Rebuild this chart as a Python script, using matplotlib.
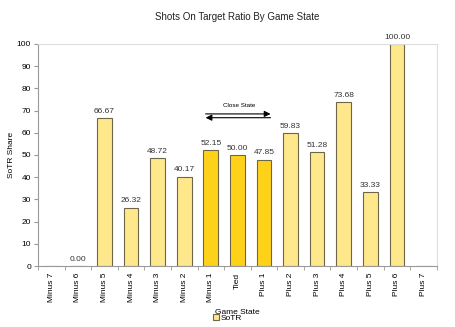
import numpy as np
import matplotlib
matplotlib.use('Agg')
import matplotlib.pyplot as plt

states = ['Minus 7', 'Minus 6', 'Minus 5', 'Minus 4', 'Minus 3', 'Minus 2', 'Minus 1',
          'Tied', 'Plus 1', 'Plus 2', 'Plus 3', 'Plus 4', 'Plus 5', 'Plus 6', 'Plus 7']
sotr = [np.nan, 0.00, 66.67, 26.32, 48.72, 40.17, 52.15,
        50.00, 47.85, 59.83, 51.28, 73.68, 33.33, 100.00, np.nan]
close_states = ['Minus 1', 'Tied', 'Plus 1']

light = '#FFE88C'
gold = '#FFD21A'

plt.rcParams['font.family'] = ['Liberation Sans', 'DejaVu Sans']

fig = plt.figure(figsize=(4.55, 3.27), dpi=100)
ax = fig.add_axes([0.0835, 0.1865, 0.8765, 0.679])

x = np.arange(len(states))
colors = [gold if s in close_states else light for s in states]
vals = np.nan_to_num(sotr)
bars = ax.bar(x, vals, width=0.55, color=colors, edgecolor='#6E6648', linewidth=0.8)
for xi, v in zip(x, sotr):
    if not np.isnan(v):
        ax.text(xi, v + 1.5, '%.2f' % v, ha='center', va='bottom', fontsize=6, color='#333333')

ax.set_xlim(-0.5, 14.5)
ax.set_ylim(0, 100)
ax.set_yticks(range(0, 101, 10))
ax.set_xticks(x)
ax.set_xticklabels(states, rotation=90, fontsize=6)
ax.set_xticks(np.arange(-0.5, 15, 1), minor=True)
ax.tick_params(axis='x', which='major', length=0, pad=5)
ax.tick_params(axis='x', which='minor', length=3, color='#999999')
ax.tick_params(axis='y', labelsize=6, length=3, color='#999999', pad=2)

for side in ['left', 'bottom']:
    ax.spines[side].set_color('#999999')
for side in ['top', 'right']:
    ax.spines[side].set_color('#DDDDDD')

ax.set_title('Shots On Target Ratio By Game State', fontsize=7, pad=17, color='#222222')
ax.set_ylabel('SoTR Share', fontsize=6)
ax.yaxis.set_label_coords(-0.058, 0.5)
ax.set_xlabel('Game State', fontsize=6)
ax.xaxis.set_label_coords(0.5, -0.195)

# close state marker
ax.annotate('', xy=(8.35, 68.5), xytext=(5.7, 68.5),
            arrowprops=dict(arrowstyle='-|>', color='black', lw=0.8, mutation_scale=9))
ax.annotate('', xy=(5.7, 66.8), xytext=(8.35, 66.8),
            arrowprops=dict(arrowstyle='-|>', color='black', lw=0.8, mutation_scale=9))
ax.text(7.05, 71, 'Close State', ha='center', va='bottom', fontsize=4.5)

leg = fig.legend(handles=[bars[2]], labels=['SoTR'], loc='center',
                 bbox_to_anchor=(0.5, 0.027), fontsize=6, frameon=False,
                 handlelength=0.7, handleheight=0.7, handletextpad=0.2, borderpad=0)

fig.savefig('out.png', dpi=100)
